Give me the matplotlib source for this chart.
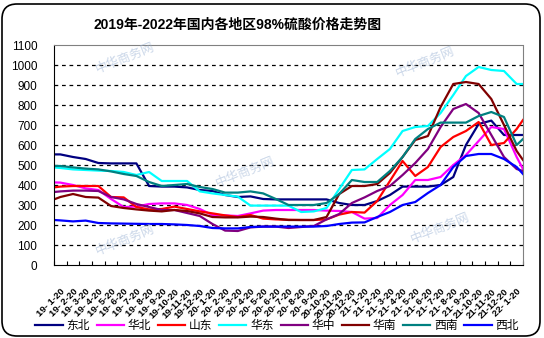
import matplotlib.pyplot as plt
from matplotlib.patches import FancyBboxPatch

plt.rcParams['font.family'] = ['Liberation Sans', 'Noto Sans CJK SC', 'DejaVu Sans']

TITLE = '2019年-2022年国内各地区98%硫酸价格走势图'

# month index: 0 = 19-1-20 ... 36 = 22-1-20 (first/last points sit on the axis edges)
months = [-0.5] + list(range(37)) + [36.5]
tick_labels = [f'{yy}-{mm:>2}-20' for yy in (19, 20, 21) for mm in range(1, 13)] + ['22- 1-20']

dongbei = [553, 553, 540, 530, 510, 508, 508, 508, 395, 392, 392, 388, 375, 370, 350, 340, 343, 330, 328, 328,
           328, 328, 328, 310, 300, 300, 320, 350, 392, 392, 392, 400, 440, 600, 705, 722, 650, 650, 650]
huabei = [413, 412, 400, 383, 375, 330, 290, 292, 305, 308, 308, 300, 280, 250, 248, 245, 258, 272, 275, 275,
          275, 275, 272, 270, 265, 232, 235, 300, 350, 425, 425, 440, 500, 550, 620, 690, 680, 540, 480]
shandong = [388, 392, 395, 395, 395, 340, 338, 290, 278, 280, 292, 280, 268, 258, 248, 240, 250, 232, 228, 226,
            225, 225, 228, 252, 265, 262, 320, 420, 520, 445, 490, 590, 640, 670, 715, 600, 610, 680, 725]
huadong = [488, 485, 478, 475, 472, 470, 465, 450, 465, 420, 420, 420, 368, 358, 350, 342, 297, 297, 297, 297,
           265, 268, 285, 380, 475, 478, 530, 580, 670, 690, 695, 760, 850, 945, 990, 975, 970, 905, 905]
huazhong = [365, 368, 372, 372, 370, 340, 328, 305, 290, 275, 275, 260, 245, 205, 172, 170, 188, 192, 192, 185,
            190, 195, 228, 255, 310, 338, 370, 395, 450, 510, 580, 690, 780, 805, 760, 650, 540, 480, 470]
huanan = [328, 340, 355, 340, 337, 295, 285, 278, 272, 268, 275, 270, 258, 240, 238, 238, 242, 240, 232, 225,
          225, 225, 240, 355, 395, 395, 405, 460, 540, 625, 645, 790, 905, 915, 905, 830, 700, 570, 525]
xinan = [495, 495, 488, 482, 478, 468, 455, 445, 415, 395, 400, 405, 390, 380, 362, 362, 368, 358, 330, 300,
         300, 300, 310, 355, 425, 415, 415, 470, 540, 630, 680, 712, 712, 712, 745, 765, 740, 600, 630]
xibei = [225, 223, 218, 222, 210, 208, 207, 206, 205, 205, 203, 200, 195, 185, 183, 183, 190, 192, 192, 192,
         192, 192, 195, 205, 212, 213, 240, 265, 300, 315, 360, 400, 490, 545, 555, 555, 530, 490, 455]

series = [('东北', dongbei, '#000080'), ('华北', huabei, '#FF00FF'), ('山东', shandong, '#FF0000'),
          ('华东', huadong, '#00FFFF'), ('华中', huazhong, '#800080'), ('华南', huanan, '#800000'),
          ('西南', xinan, '#008080'), ('西北', xibei, '#0000FF')]

fig = plt.figure(figsize=(5.44, 3.38), dpi=100)
ax = fig.add_axes([54 / 544, 1 - 265 / 338, 469 / 544, 220 / 338])

for name, vals, col in series:
    ax.plot(months, vals, color=col, lw=1.6, label=name)

ax.set_xlim(-0.5, 36.5)
ax.set_ylim(0, 1100)
ax.set_yticks(range(0, 1101, 100))
ax.tick_params(axis='y', length=0, labelsize=8.5, pad=12)
for y in range(100, 1001, 100):
    ax.axhline(y, color='black', lw=0.9, ls=(0, (3, 3)), zorder=0)

# tick marks between months, labels centred on each month
ax.set_xticks([k - 0.5 for k in range(38)])
ax.set_xticklabels([])
ax.tick_params(axis='x', which='major', direction='in', length=3, color='black')
ax.set_xticks(range(37), minor=True)
ax.set_xticklabels(tick_labels, minor=True, rotation=45, ha='right', va='top',
                   rotation_mode='anchor', fontsize=6.8, fontweight='bold')
ax.tick_params(axis='x', which='minor', length=0, pad=16)

ax.spines['left'].set_color('black')
ax.spines['bottom'].set_color('black')
for s in ('top', 'right'):
    ax.spines[s].set_color('#808080')
    ax.spines[s].set_linestyle((0, (1, 1)))
    ax.spines[s].set_linewidth(0.8)

fig.text(238 / 544, 1 - 25 / 338, TITLE, ha='center', va='center', fontsize=10, fontweight='bold')

fig.legend(loc='center', bbox_to_anchor=(277 / 544, 1 - 326 / 338), ncol=8, frameon=False,
           fontsize=8.5, handlelength=2.3, handletextpad=0.3, columnspacing=0.6)

# watermarks
for wx, wy in [(125, 58), (245, 172), (425, 62), (125, 240), (440, 228)]:
    fig.text(wx / 544, 1 - wy / 338, '中华商务网', color='#9fb6d6', alpha=0.55, fontsize=9,
             rotation=22, ha='center', va='center', zorder=0)

fig.patches.append(FancyBboxPatch((0.02, 0.02), 5.38, 3.32, boxstyle='round,pad=0,rounding_size=0.15',
                                  transform=fig.dpi_scale_trans, fill=False, lw=1.2, ec='black'))

fig.savefig('out.png', dpi=100)
